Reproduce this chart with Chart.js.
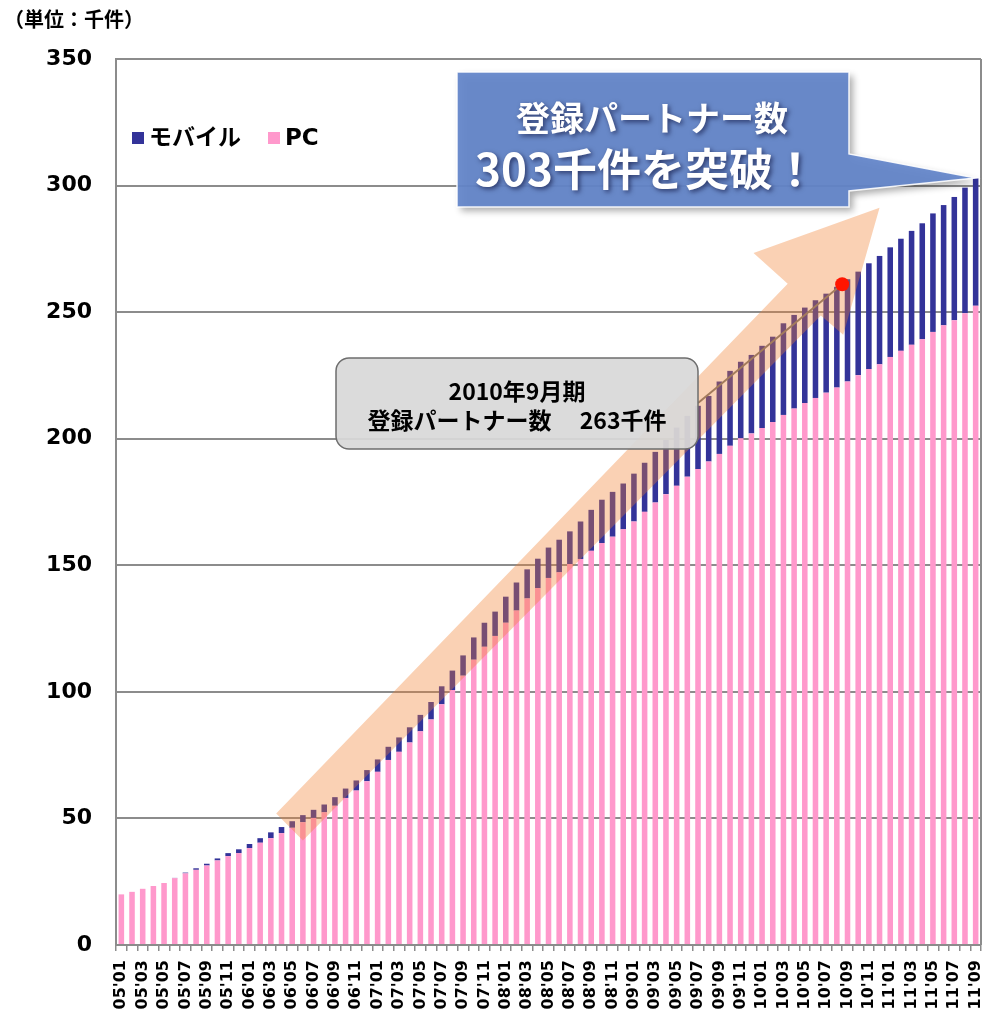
<!DOCTYPE html>
<html>
<head>
<meta charset="utf-8">
<script src="https://cdn.jsdelivr.net/npm/chart.js@4/dist/chart.umd.min.js"></script>
<style>
  body { margin: 0; background: #fff; }
  canvas { display: block; }
</style>
</head>
<body>
<canvas id="partnerChart" width="989" height="1010"></canvas>
<script>
const monthLabels = [
    "05'01", "05'02", "05'03", "05'04", "05'05", "05'06", "05'07", "05'08", "05'09", "05'10", "05'11", "05'12",
    "06'01", "06'02", "06'03", "06'04", "06'05", "06'06", "06'07", "06'08", "06'09", "06'10", "06'11", "06'12",
    "07'01", "07'02", "07'03", "07'04", "07'05", "07'06", "07'07", "07'08", "07'09", "07'10", "07'11", "07'12",
    "08'01", "08'02", "08'03", "08'04", "08'05", "08'06", "08'07", "08'08", "08'09", "08'10", "08'11", "08'12",
    "09'01", "09'02", "09'03", "09'04", "09'05", "09'06", "09'07", "09'08", "09'09", "09'10", "09'11", "09'12",
    "10'01", "10'02", "10'03", "10'04", "10'05", "10'06", "10'07", "10'08", "10'09", "10'10", "10'11", "10'12",
    "11'01", "11'02", "11'03", "11'04", "11'05", "11'06", "11'07", "11'08", "11'09"
];

// 千件
const pcValues = [
    20, 21, 22.2, 23.3, 24.5, 26.4, 28.3, 29.7, 31.4, 33.4,
    35.1, 36.3, 38.3, 40.4, 42.2, 44.2, 46.3, 48.5, 50.2, 52.4,
    55, 58.1, 61, 64.7, 68.4, 73.1, 76.3, 80, 84.4, 89.1,
    95.1, 100.7, 106.4, 112.7, 117.8, 122.1, 127.3, 132.1, 136.9, 141,
    145, 147.2, 150.5, 152.5, 155.7, 158.8, 161.3, 164.2, 167.3, 171.1,
    174.8, 178.1, 181.4, 185, 188, 191, 194, 197.2, 200.2, 202.1,
    204.2, 206.6, 209.4, 211.9, 214.1, 216.1, 218.2, 220.2, 222.6, 225.1,
    227.5, 229.4, 232.3, 234.7, 237.1, 239.3, 242.2, 244.8, 246.8, 249.6,
    252.5
];

const mobileValues = [
    0, 0, 0, 0, 0, 0.1, 0.3, 0.6, 0.7, 0.8,
    1.2, 1.5, 1.6, 1.8, 2.3, 2.4, 2.6, 2.8, 3.2, 3.1,
    3.4, 3.7, 4.0, 4.4, 4.9, 5.2, 5.7, 6.0, 6.5, 6.9,
    7.1, 7.7, 8.0, 8.8, 9.5, 9.6, 10.3, 11.1, 11.5, 11.6,
    12.0, 12.9, 12.9, 14.8, 16.2, 17.1, 17.7, 18.1, 18.9, 19.4,
    20.0, 21.4, 23.0, 24.0, 25.0, 25.9, 28.6, 29.6, 30.2, 31.0,
    32.5, 33.7, 36.2, 37.0, 37.7, 38.6, 39.1, 39.8, 40.4, 40.9,
    41.8, 42.8, 43.3, 44.3, 45.0, 45.8, 46.8, 47.5, 48.7, 49.6,
    50.5
];

const yTicks = [0, 50, 100, 150, 200, 250, 300, 350];

const PINK = '#ff99cc';
const NAVY = '#333399';
const GRID = '#8c8c8c';
const JP = '"Noto Sans CJK JP", sans-serif';

// arrow outline in (bar index, value) coordinates
const arrowShape = [[14.5, 51.9], [62.4, 261.2], [59.2, 273.4], [71.0, 291.2], [67.6, 241.1], [65.5, 248.7], [17.0, 41.3]];

const decorPlugin = {
    id: 'decor',
    afterDatasetsDraw(chart) {
        const ctx = chart.ctx;
        const xs = chart.scales.x, ys = chart.scales.y;
        const area = chart.chartArea;
        const pt = (i, v) => [xs.getPixelForValue(i), ys.getPixelForValue(v)];

        ctx.save();

        // right border of plot
        ctx.strokeStyle = GRID;
        ctx.lineWidth = 2;
        ctx.beginPath();
        ctx.moveTo(area.right, area.top);
        ctx.lineTo(area.right, area.bottom);
        ctx.stroke();

        // orange arrow
        ctx.fillStyle = 'rgba(240,128,48,0.36)';
        ctx.beginPath();
        arrowShape.forEach(([i, v], k) => {
            const [x, y] = pt(i, v);
            if (k === 0) ctx.moveTo(x, y); else ctx.lineTo(x, y);
        });
        ctx.closePath();
        ctx.fill();

        // connector + red dot (2010年9月)
        const [dx, dy] = pt(67.5, 261);
        ctx.strokeStyle = '#a37b5c';
        ctx.lineWidth = 2;
        ctx.beginPath();
        ctx.moveTo(698, 403);
        ctx.lineTo(dx, dy);
        ctx.stroke();
        ctx.fillStyle = '#ff1500';
        ctx.beginPath();
        ctx.arc(dx, dy, 7, 0, Math.PI * 2);
        ctx.fill();

        // grey callout
        ctx.fillStyle = 'rgba(216,216,216,0.93)';
        ctx.strokeStyle = '#6e6e6e';
        ctx.lineWidth = 1.5;
        ctx.beginPath();
        ctx.roundRect(336, 358, 362, 91, 13);
        ctx.fill();
        ctx.stroke();
        ctx.fillStyle = '#000';
        ctx.textAlign = 'center';
        ctx.textBaseline = 'middle';
        ctx.font = 'bold 23px ' + JP;
        ctx.fillText('2010年9月期', 517, 391);
        ctx.fillText('登録パートナー数　 263千件', 517, 420);

        // blue callout pointing to last bar
        const [tx, ty] = pt(monthLabels.length - 1, pcValues[80] + mobileValues[80]);
        ctx.save();
        ctx.shadowColor = 'rgba(0,0,0,0.35)';
        ctx.shadowBlur = 7;
        ctx.shadowOffsetX = 4;
        ctx.shadowOffsetY = 4;
        ctx.fillStyle = 'rgba(100,134,202,0.94)';
        ctx.beginPath();
        ctx.moveTo(457, 72);
        ctx.lineTo(849, 72);
        ctx.lineTo(849, 154);
        ctx.lineTo(tx, ty);
        ctx.lineTo(849, 191);
        ctx.lineTo(849, 207);
        ctx.lineTo(457, 207);
        ctx.closePath();
        ctx.fill();
        ctx.restore();
        ctx.strokeStyle = 'rgba(255,255,255,0.9)';
        ctx.lineWidth = 1.5;
        ctx.stroke();

        ctx.save();
        ctx.shadowColor = 'rgba(0,0,40,0.6)';
        ctx.shadowBlur = 5;
        ctx.shadowOffsetX = 2;
        ctx.shadowOffsetY = 2;
        ctx.fillStyle = '#fff';
        ctx.font = 'bold 34px ' + JP;
        ctx.fillText('登録パートナー数', 652, 118);
        ctx.font = 'bold 44px ' + JP;
        ctx.fillText('303千件を突破！', 646, 169);
        ctx.restore();

        // legend
        ctx.textAlign = 'left';
        ctx.font = 'bold 23px "DejaVu Sans", ' + JP;
        ctx.fillStyle = NAVY;
        ctx.fillRect(132, 132, 12, 12);
        ctx.fillStyle = '#000';
        ctx.fillText('モバイル', 149, 139);
        ctx.fillStyle = PINK;
        ctx.fillRect(268, 132, 12, 12);
        ctx.fillStyle = '#000';
        ctx.fillText('PC', 285, 139);

        // unit
        ctx.font = 'bold 20px ' + JP;
        ctx.fillText('（単位：千件）', 4, 19);

        ctx.restore();
    }
};

new Chart(document.getElementById('partnerChart'), {
    type: 'bar',
    data: {
        labels: monthLabels,
        datasets: [{
            label: 'PC',
            data: pcValues,
            backgroundColor: PINK,
        }, {
            label: 'モバイル',
            data: mobileValues,
            backgroundColor: NAVY,
        }]
    },
    options: {
        responsive: false,
        animation: false,
        layout: { padding: { left: 0, right: 8, top: 59, bottom: 0 } },
        datasets: { bar: { categoryPercentage: 1, barPercentage: 0.52 } },
        plugins: {
            legend: { display: false },
            tooltip: { enabled: false },
        },
        scales: {
            x: {
                stacked: true,
                grid: { offset: true, drawOnChartArea: false, tickLength: 6, color: GRID, lineWidth: 1.5 },
                border: { color: GRID, width: 2 },
                ticks: {
                    autoSkip: false,
                    maxRotation: 90,
                    minRotation: 90,
                    padding: 9,
                    color: '#000',
                    font: { family: '"DejaVu Sans"', size: 16, weight: 'bold' },
                    callback: (v, i) => i % 2 === 0 ? monthLabels[i] : '',
                },
                afterFit: scale => {
                    scale.height = 65;
                    scale.paddingLeft = 0;
                    scale.paddingRight = 0;
                },
            },
            y: {
                stacked: true,
                min: yTicks[0],
                max: yTicks[yTicks.length - 1],
                ticks: {
                    stepSize: 50,
                    padding: 24,
                    color: '#000',
                    font: { family: '"DejaVu Sans"', size: 22, weight: 'bold' },
                },
                grid: { color: GRID, lineWidth: 2, drawTicks: false },
                border: { color: GRID, width: 2 },
                afterFit: scale => { scale.width = 116; },
            }
        }
    },
    plugins: [decorPlugin]
});
</script>
</body>
</html>
